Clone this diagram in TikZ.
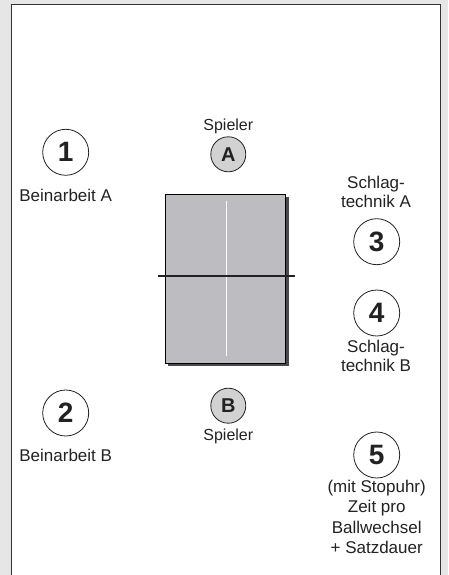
\documentclass[tikz,border=0pt]{standalone}
\usepackage{fontspec}
\setmainfont{Liberation Sans}
\usetikzlibrary{shadows}
\definecolor{bgcol}{HTML}{E6E6E6}
\definecolor{framecol}{HTML}{333333}
\definecolor{tablecol}{HTML}{BDBDC1}
\definecolor{shadowcol}{HTML}{4A4A4A}
\definecolor{playercol}{HTML}{D2D2D2}
\definecolor{inkcol}{HTML}{222222}
\tikzset{
  numcircle/.style={circle, draw=inkcol, line width=0.8pt, minimum size=46pt, inner sep=0pt,
    font=\fontsize{28}{28}\selectfont\bfseries, text=inkcol},
  playercircle/.style={circle, draw=inkcol, line width=0.8pt, fill=playercol, minimum size=35pt, inner sep=0pt,
    font=\fontsize{20}{20}\selectfont\bfseries, text=inkcol},
  lbl/.style={anchor=base, align=center, inner sep=0pt, text=inkcol,
    font=\fontsize{17}{18.5}\selectfont},
  spl/.style={anchor=base, inner sep=0pt, text=inkcol, font=\fontsize{16}{18}\selectfont},
  tablebox/.style={rectangle, draw=black, line width=0.8pt, fill=tablecol, minimum width=120.5pt,
    minimum height=169pt, inner sep=0pt,
    drop shadow={shadow xshift=3pt, shadow yshift=-3pt, fill=shadowcol, opacity=1}}
}
\begin{document}
\begin{tikzpicture}[x=1pt,y=-1pt]
\fill[bgcol] (0,0) rectangle (448,575);
\useasboundingbox (0,0) rectangle (448,575);
\fill[white] (11.5,4.5) rectangle (440.5,580);
\draw[framecol, line width=1.6pt] (11.5,580) -- (11.5,4.5) -- (440.5,4.5) -- (440.5,580);

% table
\node[tablebox] (table) at (225.4,278.8) {};
\draw[white, line width=1.2pt] (226.7,200.7) -- (226.7,356);
\draw[inkcol, line width=1.5pt] (158.3,276) -- (295,276);

% players
\node[playercircle] (A) at (228.3,154.3) {A};
\node[spl] (spA) at (228.3,131) {Spieler};
\node[playercircle] (B) at (228.3,405.7) {B};
\node[spl] (spB) at (228.3,440) {Spieler};

% numbered stations
\node[numcircle] (n1) at (65.7,152.3) {1};
\node[lbl] (l1) at (65.7,201.5) {Beinarbeit A};
\node[numcircle] (n2) at (65.7,413) {2};
\node[lbl] (l2) at (65.7,461.5) {Beinarbeit B};
\node[lbl] (l3) at (376,207) {Schlag-\\technik A};
\node[numcircle] (n3) at (376.7,241.7) {3};
\node[numcircle] (n4) at (376.7,313) {4};
\node[lbl] (l4) at (376,371) {Schlag-\\technik B};
\node[numcircle] (n5) at (376.7,455) {5};
\node[lbl, font=\fontsize{17}{20.3}\selectfont] (l5) at (376.7,553.5) {(mit Stopuhr)\\Zeit pro\\Ballwechsel\\+ Satzdauer};
\end{tikzpicture}
\end{document}
